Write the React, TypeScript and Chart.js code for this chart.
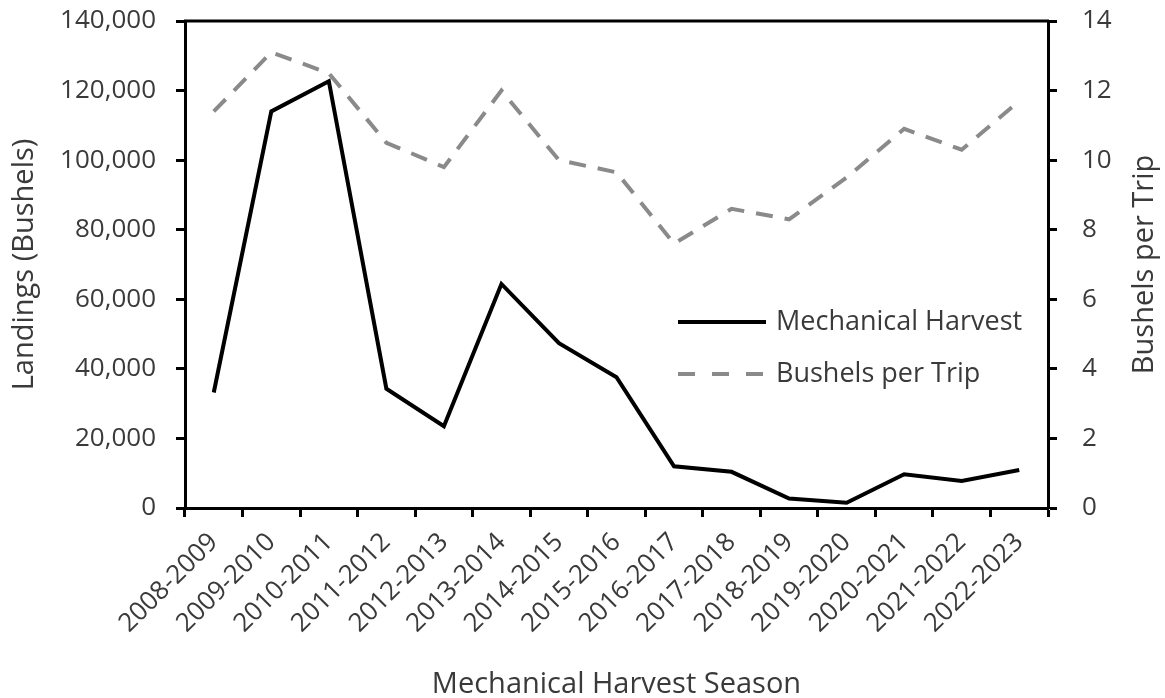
import React, { useEffect, useRef } from "react";
import { Chart, registerables } from "chart.js";

Chart.register(...registerables);

const seasons = [
  "2008-2009", "2009-2010", "2010-2011", "2011-2012", "2012-2013",
  "2013-2014", "2014-2015", "2015-2016", "2016-2017", "2017-2018",
  "2018-2019", "2019-2020", "2020-2021", "2021-2022", "2022-2023",
];
const mechanicalHarvest = [
  33200, 114000, 122700, 34300, 23500, 64400, 47400, 37600, 12000, 10400,
  2700, 1500, 9700, 7800, 10900,
];
const bushelsPerTrip = [
  11.4, 13.1, 12.5, 10.5, 9.8, 12.0, 10.0, 9.65, 7.6, 8.6, 8.3, 9.5, 10.9, 10.3, 11.7,
];
const leftTicks = [0, 20000, 40000, 60000, 80000, 100000, 120000, 140000];
const rightTicks = [0, 2, 4, 6, 8, 10, 12, 14];

const FONT = "'Open Sans', sans-serif";
const TEXT = "#3a3a3a";
const GRAY = "#8a8a8a";

const framePlugin = {
  id: "frame",
  afterDatasetsDraw(chart: any) {
    const { ctx, chartArea } = chart;
    ctx.save();
    ctx.strokeStyle = "#000";
    ctx.lineWidth = 3;
    ctx.beginPath();
    ctx.moveTo(chartArea.left - 1, chartArea.top);
    ctx.lineTo(chartArea.right + 1, chartArea.top);
    ctx.stroke();

    // axis titles (both read bottom-to-top)
    const midY = (chartArea.top + chartArea.bottom) / 2;
    ctx.fillStyle = TEXT;
    ctx.font = `29px ${FONT}`;
    ctx.textAlign = "center";
    ctx.textBaseline = "middle";
    [
      { x: 25, text: "Landings (Bushels)" },
      { x: 1145, text: "Bushels per Trip" },
    ].forEach((t) => {
      ctx.save();
      ctx.translate(t.x, midY);
      ctx.rotate(-Math.PI / 2);
      ctx.fillText(t.text, 0, 0);
      ctx.restore();
    });

    // legend inside the plot
    const items = [
      { label: "Mechanical Harvest", color: "#000", dash: [] as number[] },
      { label: "Bushels per Trip", color: GRAY, dash: [17, 17] },
    ];
    const x0 = 678;
    const x1 = 766;
    const ys = [322, 374];
    ctx.font = `27px ${FONT}`;
    ctx.textBaseline = "middle";
    ctx.textAlign = "left";
    items.forEach((it, i) => {
      ctx.beginPath();
      ctx.setLineDash(it.dash);
      ctx.strokeStyle = it.color;
      ctx.lineWidth = 4;
      ctx.moveTo(x0, ys[i]);
      ctx.lineTo(x1, ys[i]);
      ctx.stroke();
      ctx.setLineDash([]);
      ctx.fillStyle = TEXT;
      ctx.fillText(it.label, 776, ys[i]);
    });
    ctx.restore();
  },
};

export default function App() {
  const ref = useRef<HTMLCanvasElement | null>(null);

  useEffect(() => {
    document.body.style.margin = "0";
    const canvas = ref.current;
    if (!canvas) return;
    const chart = new Chart(canvas, {
      type: "line",
      data: {
        labels: seasons,
        datasets: [
          {
            label: "Mechanical Harvest",
            data: mechanicalHarvest,
            borderColor: "#000",
            borderWidth: 4,
            pointRadius: 0,
            tension: 0,
            yAxisID: "y",
          },
          {
            label: "Bushels per Trip",
            data: bushelsPerTrip,
            borderColor: GRAY,
            borderWidth: 4,
            borderDash: [17, 12],
            pointRadius: 0,
            tension: 0,
            yAxisID: "y1",
          },
        ],
      },
      options: {
        animation: false,
        responsive: false,
        layout: { padding: { top: 21, left: 0, right: 0, bottom: 0 } },
        plugins: {
          legend: { display: false },
          tooltip: { enabled: false },
        },
        scales: {
          x: {
            offset: true,
            grid: {
              offset: true,
              drawOnChartArea: false,
              drawTicks: true,
              tickLength: 9,
              tickWidth: 3,
              tickColor: "#000",
            },
            border: { display: true, color: "#000", width: 3 },
            ticks: {
              color: TEXT,
              font: { family: FONT, size: 26 },
              minRotation: 45,
              maxRotation: 45,
              autoSkip: false,
              padding: 10,
            },
            title: {
              display: true,
              text: "Mechanical Harvest Season",
              color: TEXT,
              font: { family: FONT, size: 29 },
              padding: { top: 0, bottom: -4 },
            },
            afterFit(scale: any) {
              scale.height = 190;
              scale.paddingLeft = 0;
              scale.paddingRight = 0;
            },
          },
          y: {
            position: "left",
            min: 0,
            max: 140000,
            afterBuildTicks(scale: any) {
              scale.ticks = leftTicks.map((v) => ({ value: v }));
            },
            grid: {
              drawOnChartArea: false,
              drawTicks: true,
              tickLength: 9,
              tickWidth: 3,
              tickColor: "#000",
            },
            border: { display: true, color: "#000", width: 3 },
            ticks: {
              color: TEXT,
              font: { family: FONT, size: 26 },
              padding: 20,
              callback: (v: any) => Number(v).toLocaleString("en-US"),
            },
            afterFit(scale: any) {
              scale.width = 185;
              scale.paddingTop = 0;
              scale.paddingBottom = 0;
            },
          },
          y1: {
            position: "right",
            min: 0,
            max: 14,
            afterBuildTicks(scale: any) {
              scale.ticks = rightTicks.map((v) => ({ value: v }));
            },
            grid: {
              drawOnChartArea: false,
              drawTicks: true,
              tickLength: 9,
              tickWidth: 3,
              tickColor: "#000",
            },
            border: { display: true, color: "#000", width: 3 },
            ticks: {
              color: TEXT,
              font: { family: FONT, size: 26 },
              padding: 25,
            },
            afterFit(scale: any) {
              scale.width = 117;
              scale.paddingTop = 0;
              scale.paddingBottom = 0;
            },
          },
        },
      },
      plugins: [framePlugin],
    });
    return () => chart.destroy();
  }, []);

  return (
    <div style={{ width: 1165, height: 698, background: "#fff" }}>
      <canvas ref={ref} width={1165} height={698} style={{ display: "block" }} />
    </div>
  );
}
